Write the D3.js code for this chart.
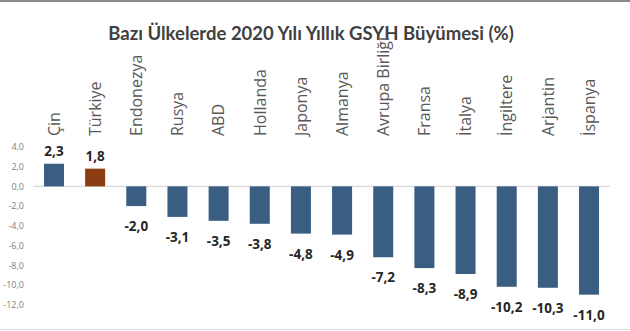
<!DOCTYPE html>
<html lang="tr">
<head>
<meta charset="utf-8">
<script src="https://cdn.jsdelivr.net/npm/d3@7"></script>
<style>
  html, body { margin: 0; padding: 0; background: #ffffff; }
  svg { display: block; }
</style>
</head>
<body>
<svg id="chart" width="630" height="331"></svg>
<script>
// 2020 annual GDP growth (%) for selected economies
const countries = ["Çin", "Türkiye", "Endonezya", "Rusya", "ABD", "Hollanda", "Japonya",
  "Almanya", "Avrupa Birliği", "Fransa", "İtalya", "İngiltere", "Arjantin", "İspanya"];
const growth = [2.3, 1.8, -2.0, -3.1, -3.5, -3.8, -4.8, -4.9, -7.2, -8.3, -8.9, -10.2, -10.3, -11.0];
const highlight = ["Türkiye"];
const yTicks = [4, 2, 0, -2, -4, -6, -8, -10, -12];
const title = "Bazı Ülkelerde 2020 Yılı Yıllık GSYH Büyümesi (%)";

const W = 630, H = 331;
const svg = d3.select("#chart");
const fmt = v => d3.format(".1f")(v).replace(".", ",").replace("−", "-");

const x = d3.scaleBand()
  .domain(countries)
  .range([33.4, 609.6])
  .paddingInner(0.514)
  .paddingOuter(0.257);

const y = d3.scaleLinear()
  .domain([-12, 4])
  .range([304.5, 147]);

// frame lines
svg.append("rect").attr("x", 0).attr("y", 0).attr("width", W).attr("height", 2).attr("fill", "#8a8a8a");
svg.append("line").attr("x1", 0).attr("x2", W).attr("y1", 329.5).attr("y2", 329.5)
  .attr("stroke", "#d9d9d9").attr("stroke-width", 1);

// title
svg.append("text")
  .attr("x", 311).attr("y", 40)
  .attr("text-anchor", "middle")
  .attr("font-family", "Lato, 'Open Sans', sans-serif")
  .attr("font-weight", 700)
  .attr("font-size", 18.5)
  .attr("fill", "#404040")
  .text(title);

// value axis labels
const yAxis = d3.axisLeft(y)
  .tickValues(yTicks)
  .tickSize(0)
  .tickPadding(0)
  .tickFormat(fmt);
const ya = svg.append("g").attr("transform", "translate(24,0)").call(yAxis);
ya.select(".domain").remove();
ya.selectAll("text")
  .attr("font-family", "'Open Sans', sans-serif")
  .attr("font-size", 9)
  .attr("fill", "#7f7f7f");

// zero line
svg.append("line")
  .attr("x1", x.range()[0]).attr("x2", x.range()[1])
  .attr("y1", y(0)).attr("y2", y(0))
  .attr("stroke", "#d9d9d9").attr("stroke-width", 1.2);

const data = countries.map((c, i) => ({ c, v: growth[i] }));

// bars
svg.append("g").selectAll("rect")
  .data(data)
  .join("rect")
  .attr("x", d => x(d.c))
  .attr("width", x.bandwidth())
  .attr("y", d => y(Math.max(0, d.v)))
  .attr("height", d => Math.abs(y(d.v) - y(0)))
  .attr("fill", d => highlight.includes(d.c) ? "#8a3c12" : "#3a5e82");

// value labels
svg.append("g").selectAll("text")
  .data(data)
  .join("text")
  .attr("x", d => x(d.c) + x.bandwidth() / 2)
  .attr("y", d => d.v >= 0 ? y(d.v) - 8 : y(d.v) + 25)
  .attr("text-anchor", "middle")
  .attr("font-family", "'Open Sans', sans-serif")
  .attr("font-weight", 700)
  .attr("font-size", 13.5)
  .attr("fill", "#262626")
  .text(d => fmt(d.v));

// country labels, rotated
svg.append("g").selectAll("text")
  .data(countries)
  .join("text")
  .attr("transform", d => `translate(${x(d) + x.bandwidth() / 2},136) rotate(-90)`)
  .attr("dy", "0.36em")
  .attr("text-anchor", "start")
  .attr("font-family", "'Open Sans', sans-serif")
  .attr("font-size", 16)
  .attr("fill", "#595959")
  .text(d => d);
</script>
</body>
</html>
